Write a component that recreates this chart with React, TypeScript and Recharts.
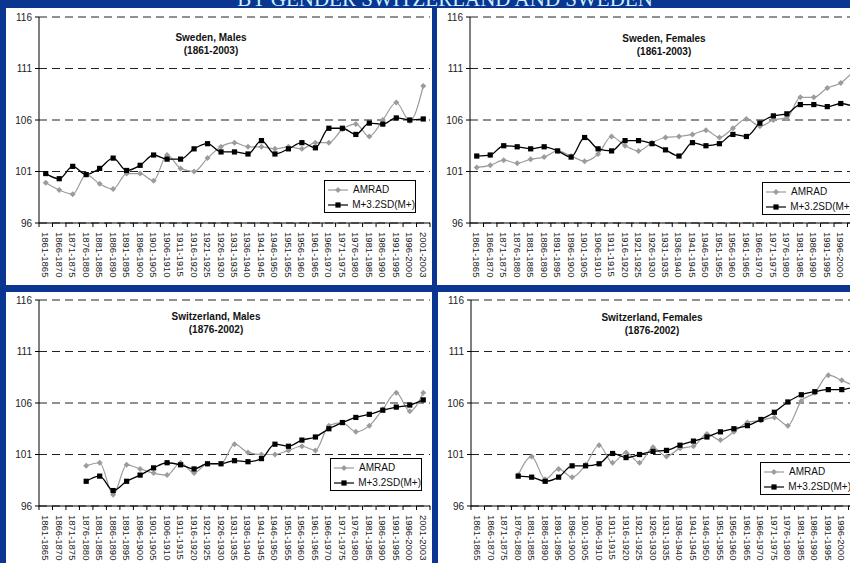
import { LineChart, Line, XAxis, YAxis, CartesianGrid } from 'recharts'

const PERIODS = [
  '1861-1865', '1866-1870', '1871-1875', '1876-1880', '1881-1885', '1886-1890',
  '1891-1895', '1896-1900', '1901-1905', '1906-1910', '1911-1915', '1916-1920',
  '1921-1925', '1926-1930', '1931-1935', '1936-1940', '1941-1945', '1946-1950',
  '1951-1955', '1956-1960', '1961-1965', '1966-1970', '1971-1975', '1976-1980',
  '1981-1985', '1986-1990', '1991-1995', '1996-2000', '2001-2003',
]
const Y_TICKS = [96, 101, 106, 111, 116]

const SWE_M_AMRAD = [99.9, 99.2, 98.8, 100.7, 99.8, 99.3, 100.8, 100.8, 100.1, 102.6, 101.3, 101.0, 102.3, 103.4, 103.8, 103.4, 103.4, 103.2, 103.4, 103.2, 103.8, 103.8, 105.1, 105.6, 104.4, 106.0, 107.7, 105.9, 109.3]
const SWE_M_SD = [100.8, 100.3, 101.5, 100.7, 101.3, 102.3, 101.1, 101.6, 102.6, 102.2, 102.2, 103.2, 103.7, 102.9, 102.9, 102.7, 104.0, 102.7, 103.2, 103.8, 103.3, 105.2, 105.2, 104.6, 105.7, 105.6, 106.2, 106.0, 106.1]
const SWE_F_AMRAD = [101.4, 101.6, 102.1, 101.8, 102.2, 102.4, 103.0, 102.5, 102.0, 102.7, 104.4, 103.5, 103.0, 103.8, 104.3, 104.4, 104.6, 105.0, 104.3, 105.2, 106.1, 105.4, 106.0, 106.2, 108.2, 108.2, 109.1, 109.6, 110.8]
const SWE_F_SD = [102.5, 102.6, 103.5, 103.4, 103.2, 103.4, 103.0, 102.4, 104.3, 103.2, 103.0, 104.0, 104.0, 103.7, 103.1, 102.5, 103.8, 103.5, 103.7, 104.6, 104.4, 105.7, 106.4, 106.6, 107.5, 107.5, 107.3, 107.6, 107.3]
const CHE_M_AMRAD = [null, null, null, 99.9, 100.2, 97.1, 100.0, 99.6, 99.2, 99.0, 100.2, 99.2, 100.1, 100.1, 102.0, 101.2, 101.0, 101.0, 101.4, 101.8, 101.4, 103.8, 104.1, 103.2, 103.8, 105.4, 107.0, 105.2, 107.0]
const CHE_M_SD = [null, null, null, 98.4, 98.9, 97.5, 98.4, 99.0, 99.7, 100.2, 100.0, 99.6, 100.1, 100.1, 100.4, 100.3, 100.6, 102.0, 101.8, 102.4, 102.7, 103.5, 104.1, 104.6, 104.9, 105.3, 105.6, 105.8, 106.3]
const CHE_F_AMRAD = [null, null, null, 99.0, 100.8, 98.6, 99.6, 98.8, 100.0, 101.9, 100.2, 101.2, 100.2, 101.7, 100.8, 101.6, 101.8, 103.0, 102.4, 103.2, 104.1, 104.3, 104.6, 103.8, 106.2, 107.0, 108.7, 108.2, 107.6]
const CHE_F_SD = [null, null, null, 98.9, 98.8, 98.4, 98.8, 99.9, 99.9, 100.1, 101.1, 100.7, 101.0, 101.3, 101.4, 101.9, 102.3, 102.7, 103.2, 103.5, 103.8, 104.4, 105.1, 106.1, 106.8, 107.1, 107.3, 107.3, 107.6]

const FONT = '"Liberation Sans", Arial, sans-serif'
const PANEL_W = 426
const PANEL_H = 277
const Y_W = 33
const RIGHT = 2
const STEP = (PANEL_W - Y_W - RIGHT) / PERIODS.length

const GREY = '#9c9c9c'

function Diamond({ cx, cy, fill, r = 3 }: any) {
  return <path d={`M${cx},${cy - r}L${cx + r},${cy}L${cx},${cy + r}L${cx - r},${cy}Z`} fill={fill} />
}

function Square({ cx, cy, fill, r = 2.6 }: any) {
  return <rect x={cx - r} y={cy - r} width={r * 2} height={r * 2} fill={fill} />
}

function PeriodTick({ x, y, payload, index }: any) {
  return (
    <g>
      {index === 0 && <line x1={x - STEP / 2} x2={x - STEP / 2} y1={y - 9} y2={y - 5} stroke="#000" />}
      <line x1={x + STEP / 2} x2={x + STEP / 2} y1={y - 9} y2={y - 5} stroke="#000" />
      <text
        transform={`translate(${x},${y}) rotate(90)`}
        textAnchor="start"
        dominantBaseline="central"
        fontSize={9.5}
        fill="#222"
        fontFamily={FONT}
      >
        {payload.value}
      </text>
    </g>
  )
}

function LegendBox({ left, top }: { left: number; top: number }) {
  const row = (label: string, color: string, square: boolean) => (
    <div style={{ display: 'flex', alignItems: 'center', height: 15 }}>
      <svg width={24} height={10} style={{ marginRight: 3 }}>
        <line x1={2} x2={22} y1={5} y2={5} stroke={color} strokeWidth={1.2} />
        {square ? <Square cx={12} cy={5} fill={color} /> : <Diamond cx={12} cy={5} fill={color} />}
      </svg>
      <span>{label}</span>
    </div>
  )
  return (
    <div
      style={{
        position: 'absolute', left, top, width: 92, height: 33, boxSizing: 'border-box',
        border: '1px solid #000', background: '#fff', padding: '1px 0 0 1px',
        fontFamily: FONT, fontSize: 10, color: '#111', lineHeight: '12px',
      }}
    >
      {row('AMRAD', GREY, false)}
      {row('M+3.2SD(M+)', '#000', true)}
    </div>
  )
}

type PanelProps = {
  title: string
  span: string
  amrad: (number | null)[]
  sd: (number | null)[]
  left: number
  top: number
  plotTop: number
  titleX: number
  titleY: number
  legendX: number
  legendY: number
}

function Panel({ title, span, amrad, sd, left, top, plotTop, titleX, titleY, legendX, legendY }: PanelProps) {
  const rows = PERIODS.map((period, i) => ({ period, amrad: amrad[i], sd: sd[i] }))
  return (
    <div style={{ position: 'absolute', left, top, width: PANEL_W, height: PANEL_H, background: '#fff' }}>
      <LineChart width={PANEL_W} height={PANEL_H} data={rows} margin={{ top: plotTop, right: RIGHT, bottom: 0, left: 0 }}>
        <CartesianGrid vertical={false} stroke="#222" strokeDasharray="8 5" />
        <XAxis
          dataKey="period"
          interval={0}
          height={PANEL_H - plotTop - 206}
          padding={{ left: STEP / 2, right: STEP / 2 }}
          tickLine={false}
          tickSize={4}
          tickMargin={5}
          axisLine={{ stroke: '#000' }}
          tick={<PeriodTick />}
        />
        <YAxis
          domain={[96, 116]}
          ticks={Y_TICKS}
          width={Y_W}
          tickSize={4}
          tickMargin={3}
          axisLine={{ stroke: '#000' }}
          tickLine={{ stroke: '#000' }}
          tick={{ fontSize: 10, fill: '#222', fontFamily: FONT }}
        />
        <YAxis yAxisId="r" orientation="right" width={0} domain={[96, 116]} tick={false} tickLine={false} axisLine={{ stroke: '#a8a8a8' }} />
        <Line
          dataKey="amrad"
          type="monotone"
          stroke={GREY}
          strokeWidth={1.2}
          isAnimationActive={false}
          dot={(p: any) => (p.cy == null ? <g key={`a${p.index}`} /> : <Diamond key={`a${p.index}`} cx={p.cx} cy={p.cy} fill={GREY} />)}
          activeDot={false}
        />
        <Line
          dataKey="sd"
          type="monotone"
          stroke="#000"
          strokeWidth={1.3}
          isAnimationActive={false}
          dot={(p: any) => (p.cy == null ? <g key={`s${p.index}`} /> : <Square key={`s${p.index}`} cx={p.cx} cy={p.cy} fill="#000" />)}
          activeDot={false}
        />
      </LineChart>
      <div
        style={{
          position: 'absolute', left: titleX - 80, top: titleY - 6, width: 160, textAlign: 'center',
          fontFamily: FONT, fontSize: 10, fontWeight: 'bold', color: '#111', lineHeight: '12.5px',
        }}
      >
        <div>{title}</div>
        <div>{span}</div>
      </div>
      <LegendBox left={legendX} top={legendY} />
    </div>
  )
}

export default function App() {
  return (
    <div style={{ position: 'absolute', left: 0, top: 0, width: 850, height: 563, overflow: 'hidden', background: '#0a3590' }}>
      <svg width={850} height={12} style={{ position: 'absolute', left: 0, top: 0 }}>
        <text x={445} y={6} textAnchor="middle" fontFamily='"Liberation Serif", "Times New Roman", serif' fontSize={21} fill="#c9f1ff">
          BY GENDER SWITZERLAND AND SWEDEN
        </text>
      </svg>
      <Panel title="Sweden, Males" span="(1861-2003)" amrad={SWE_M_AMRAD} sd={SWE_M_SD}
        left={6} top={8} plotTop={9} titleX={205} titleY={30} legendX={318} legendY={172} />
      <Panel title="Sweden, Females" span="(1861-2003)" amrad={SWE_F_AMRAD} sd={SWE_F_SD}
        left={437} top={8} plotTop={9} titleX={227} titleY={31} legendX={325} legendY={174} />
      <Panel title="Switzerland, Males" span="(1876-2002)" amrad={CHE_M_AMRAD} sd={CHE_M_SD}
        left={6} top={292} plotTop={8} titleX={210} titleY={25} legendX={324} legendY={166} />
      <Panel title="Switzerland, Females" span="(1876-2002)" amrad={CHE_F_AMRAD} sd={CHE_F_SD}
        left={438} top={292} plotTop={8} titleX={214} titleY={26} legendX={322} legendY={170} />
    </div>
  )
}
